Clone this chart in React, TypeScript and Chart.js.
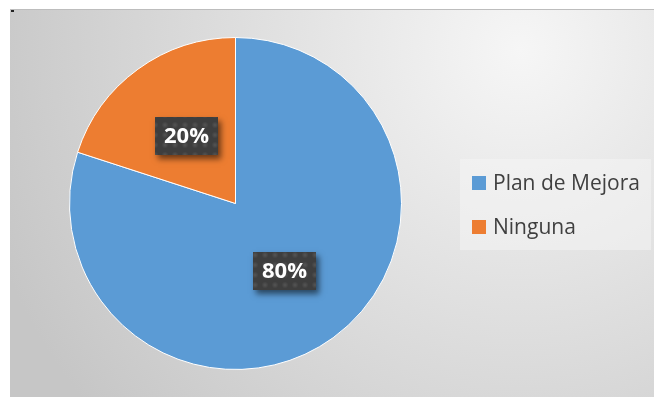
import React, { useEffect, useRef } from "react";
import { Chart, registerables } from "chart.js";

Chart.register(...registerables);

const categories: string[] = ["Plan de Mejora", "Ninguna"];
const values: number[] = [80, 20];
const colors: string[] = ["#5B9BD5", "#ED7D31"];

const W = 654;
const H = 397;
const FONT = "'Open Sans', 'Noto Sans', sans-serif";

function makePattern(ctx: CanvasRenderingContext2D) {
  const c = document.createElement("canvas");
  c.width = 10;
  c.height = 10;
  const p = c.getContext("2d")!;
  p.fillStyle = "#3e3e3e";
  p.fillRect(0, 0, 10, 10);
  const g = p.createRadialGradient(5, 5, 0, 5, 5, 3.5);
  g.addColorStop(0, "rgba(100,100,100,0.6)");
  g.addColorStop(1, "rgba(100,100,100,0)");
  p.fillStyle = g;
  p.fillRect(0, 0, 10, 10);
  return ctx.createPattern(c, "repeat");
}

export default function App() {
  const ref = useRef<HTMLCanvasElement>(null);

  useEffect(() => {
    const canvas = ref.current!;

    const bgPlugin = {
      id: "bgPanel",
      beforeDraw(chart: any) {
        const ctx = chart.ctx as CanvasRenderingContext2D;
        ctx.save();
        ctx.fillStyle = "#ffffff";
        ctx.fillRect(0, 0, W, H);
        const g = ctx.createRadialGradient(520, 50, 0, 520, 50, 560);
        g.addColorStop(0, "#f6f6f6");
        g.addColorStop(1, "#c6c6c6");
        ctx.fillStyle = g;
        ctx.fillRect(10, 10, W - 10, H - 10);
        ctx.fillStyle = "#bdbdbd";
        ctx.fillRect(10, 9, W - 10, 1);
        ctx.fillStyle = "#222";
        ctx.fillRect(11, 10, 3, 2);
        ctx.restore();
      },
    };

    const labelPlugin = {
      id: "boxLabels",
      afterDatasetsDraw(chart: any) {
        const ctx = chart.ctx as CanvasRenderingContext2D;
        const meta = chart.getDatasetMeta(0);
        const data = chart.data.datasets[0].data as number[];
        const total = data.reduce((a, b) => a + b, 0);
        const pattern = makePattern(ctx);
        meta.data.forEach((arc: any, i: number) => {
          const pos = arc.tooltipPosition();
          const text = Math.round((data[i] / total) * 100) + "%";
          const bw = 63;
          const bh = 38;
          const x = Math.round(pos.x - bw / 2);
          const y = Math.round(pos.y - bh / 2);
          ctx.save();
          ctx.shadowColor = "rgba(0,0,0,0.55)";
          ctx.shadowBlur = 6;
          ctx.shadowOffsetX = 3;
          ctx.shadowOffsetY = 4;
          ctx.fillStyle = "#3e3e3e";
          ctx.fillRect(x, y, bw, bh);
          ctx.restore();
          ctx.save();
          ctx.fillStyle = pattern || "#3e3e3e";
          ctx.fillRect(x, y, bw, bh);
          ctx.fillStyle = "#ffffff";
          ctx.font = "bold 22px " + FONT;
          ctx.textAlign = "center";
          ctx.textBaseline = "middle";
          ctx.fillText(text, x + bw / 2, y + bh / 2 + 1);
          ctx.restore();
        });
      },
    };

    const legendPlugin = {
      id: "boxLegend",
      afterDraw(chart: any) {
        const ctx = chart.ctx as CanvasRenderingContext2D;
        const labels = chart.data.labels as string[];
        const bg = chart.data.datasets[0].backgroundColor as string[];
        ctx.save();
        ctx.fillStyle = "rgba(246,246,246,0.5)";
        ctx.fillRect(460, 159, 191, 91);
        labels.forEach((lab, i) => {
          const cy = 183 + i * 44;
          ctx.fillStyle = bg[i];
          ctx.fillRect(472, cy - 7, 14, 14);
          ctx.fillStyle = "#404040";
          ctx.font = "21px " + FONT;
          ctx.textAlign = "left";
          ctx.textBaseline = "middle";
          ctx.fillText(lab, 493, cy + 1);
        });
        ctx.restore();
      },
    };

    const chart = new Chart(canvas, {
      type: "pie",
      data: {
        labels: categories,
        datasets: [
          {
            data: values,
            backgroundColor: colors,
            borderColor: "#ffffff",
            borderWidth: 1,
          },
        ],
      },
      options: {
        responsive: false,
        animation: false,
        devicePixelRatio: 1,
        layout: { padding: { left: 69, right: 252, top: 37, bottom: 27 } },
        plugins: {
          legend: { display: false },
          tooltip: { enabled: false },
          title: { display: false },
        },
      },
      plugins: [bgPlugin, labelPlugin, legendPlugin],
    } as any);

    return () => chart.destroy();
  }, []);

  return (
    <div style={{ position: "fixed", left: 0, top: 0, width: W, height: H }}>
      <canvas ref={ref} width={W} height={H} style={{ display: "block" }} />
    </div>
  );
}
